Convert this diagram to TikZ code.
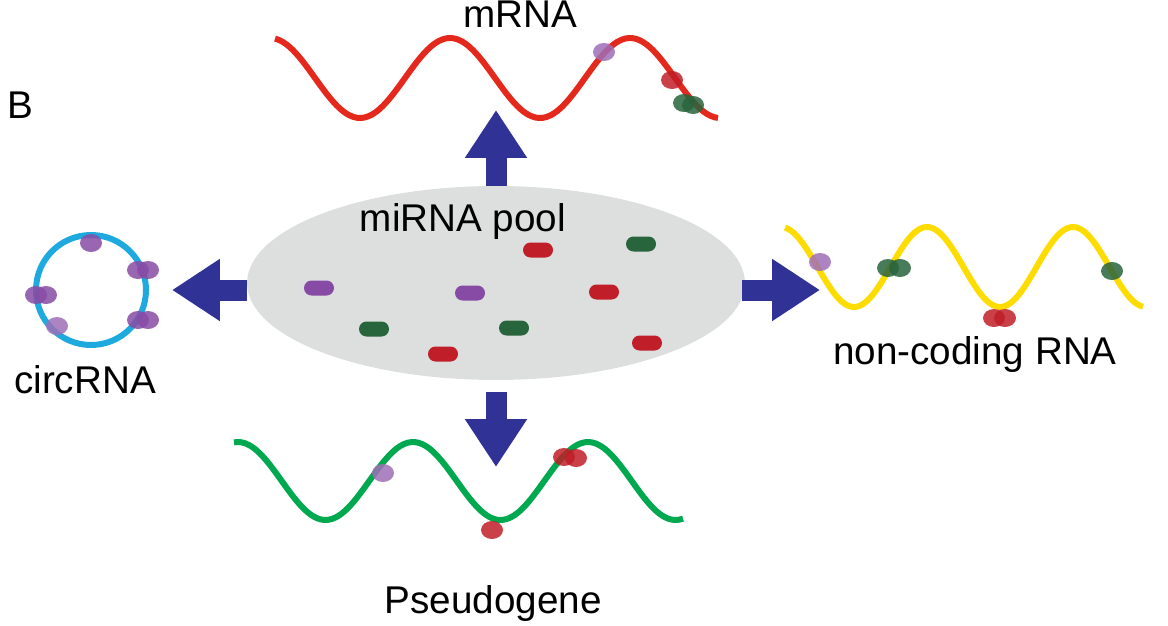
\documentclass[tikz,border=0pt]{standalone}
\usepackage{fontspec}
\setmainfont{Liberation Sans}
\usetikzlibrary{arrows.meta,shapes.geometric}
\definecolor{arrowblue}{RGB}{48,50,150}
\definecolor{rnared}{RGB}{228,40,28}
\definecolor{rnagreen}{RGB}{0,168,80}
\definecolor{rnayellow}{RGB}{255,220,0}
\definecolor{rnacyan}{RGB}{30,170,222}
\definecolor{mirpurple}{RGB}{135,75,165}
\definecolor{mirgreen}{RGB}{40,100,60}
\definecolor{mirred}{RGB}{192,30,40}
\definecolor{poolgray}{RGB}{221,223,223}
\tikzset{
  pill/.style={rectangle,rounded corners=0.15cm,minimum width=0.6cm,minimum height=0.3cm,inner sep=0pt},
  bead/.style={ellipse,minimum width=0.44cm,minimum height=0.36cm,inner sep=0pt,opacity=0.85},
  strand/.style={line width=0.12cm,smooth,samples=120},
  bigarrow/.style={arrowblue,line width=0.42cm,-{Triangle[width=1.18cm,length=0.96cm]}},
  lbl/.style={font=\fontsize{22}{26}\selectfont}
}
\begin{document}
\begin{tikzpicture}[x=0.02cm,y=-0.02cm]
\useasboundingbox (0,0) rectangle (1168,625);

% pool of miRNAs
\node[ellipse,fill=poolgray,minimum width=9.96cm,minimum height=3.88cm] (pool) at (496,283) {};
\node[lbl] (poollbl) at (463,222) {miRNA pool};
\node[pill,fill=mirred] (p1) at (538,250) {};
\node[pill,fill=mirgreen] (p2) at (641,244) {};
\node[pill,fill=mirpurple] (p3) at (319,288) {};
\node[pill,fill=mirpurple] (p4) at (470,293) {};
\node[pill,fill=mirred] (p5) at (604,292) {};
\node[pill,fill=mirgreen] (p6) at (374,329) {};
\node[pill,fill=mirgreen] (p7) at (514,328) {};
\node[pill,fill=mirred] (p8) at (443,354) {};
\node[pill,fill=mirred] (p9) at (647,343) {};

% targets
\coordinate (upend) at (496,110);
\coordinate (downstart) at (496,392);
\coordinate (downend) at (496,467);
\coordinate (leftend) at (172,290);
\coordinate (rightstart) at (742,290);
\coordinate (rightend) at (820,290);
\draw[bigarrow] (pool.north) -- (upend);
\draw[bigarrow] (downstart) -- (downend);
\draw[bigarrow] (pool.west |- leftend) -- (leftend);
\draw[bigarrow] (rightstart) -- (rightend);

% mRNA
\draw[strand,rnared] plot[domain=275:718] (\x,{78-40*cos(2*(\x-270))});
\node[bead,fill=mirpurple!80] (m1) at (604,52) {};
\node[bead,fill=mirred] (m2) at (672,80) {};
\node[bead,fill=mirgreen] (m3) at (684,103) {};
\node[bead,fill=mirgreen] (m4) at (693,105) {};
\node[lbl] (mrna) at (520,14) {mRNA};

% non-coding RNA
\draw[strand,rnayellow] plot[domain=785:1143] (\x,{267-40*cos(2.4658*(\x-781))});
\node[bead,fill=mirpurple!80] (n1) at (820,262) {};
\node[bead,fill=mirgreen] (n2) at (888,268) {};
\node[bead,fill=mirgreen] (n3) at (900,268) {};
\node[bead,fill=mirgreen] (n4) at (1112,271) {};
\node[bead,fill=mirred] (n5) at (994,318) {};
\node[bead,fill=mirred] (n6) at (1005,318) {};
\node[lbl] (ncrna) at (975,355) {non-coding RNA};

% pseudogene
\draw[strand,rnagreen] plot[domain=234:683] (\x,{481-39*cos(2.0571*(\x-413))});
\node[bead,fill=mirpurple!80] (s1) at (383,473) {};
\node[bead,fill=mirred] (s2) at (492,530) {};
\node[bead,fill=mirred] (s3) at (564,457) {};
\node[bead,fill=mirred] (s4) at (576,458) {};
\node[lbl] (pseudo) at (493,603) {Pseudogene};

% circRNA
\draw[rnacyan,line width=0.12cm] (91,290) circle[radius=1.1cm];
\node[bead,fill=mirpurple] (c1) at (91,243) {};
\node[bead,fill=mirpurple] (c2) at (138,270) {};
\node[bead,fill=mirpurple] (c3) at (148,270) {};
\node[bead,fill=mirpurple] (c4) at (138,320) {};
\node[bead,fill=mirpurple] (c5) at (148,320) {};
\node[bead,fill=mirpurple] (c6) at (36,295) {};
\node[bead,fill=mirpurple] (c7) at (46,295) {};
\node[bead,fill=mirpurple!80] (c8) at (57,326) {};
\node[lbl] (circ) at (85,380) {circRNA};

\node[lbl] (panel) at (20,105) {B};
\end{tikzpicture}
\end{document}
